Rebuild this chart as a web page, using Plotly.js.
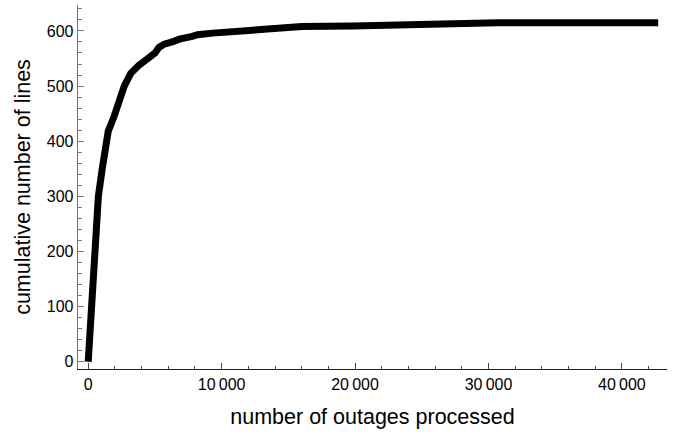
<!DOCTYPE html>
<html>
<head>
<meta charset="utf-8">
<script src="https://cdn.plot.ly/plotly-3.0.1.min.js"></script>
<style>html,body{margin:0;padding:0;background:#fff;}#chart{width:678px;height:433px;}</style>
</head>
<body>
<div id="chart"></div>
<script>
const outages = [0, 210, 435, 760, 1050, 1360, 1500, 1940, 2300, 2700, 3190, 3500, 3810, 4200, 4570, 5000, 5300, 5690, 6300, 6820, 7800, 8190, 9320, 10500, 11190, 13000, 14830, 16000, 19830, 24820, 30470, 30710, 42720];
const lines   = [0, 100, 200, 300, 350, 400, 418, 445, 470, 500, 523, 532, 538, 545, 551, 560, 570, 576, 580, 585, 590, 593, 596, 598, 602, 603, 607, 608, 609, 611, 612, 615, 615];
const xTickVals = [0, 10000, 20000, 30000, 40000];
const xTickText = ["0", "10\u2009000", "20\u2009000", "30\u2009000", "40\u2009000"];
const yTickVals = [0, 100, 200, 300, 400, 500, 600];

const fam = "Liberation Sans, Arial, sans-serif";

Plotly.newPlot("chart", [{
  x: outages, y: lines, type: "scatter", mode: "lines",
  line: {color: "#000", width: 7, shape: "linear"},
  hoverinfo: "skip"
}], {
  width: 678, height: 433,
  margin: {l: 78, r: 11, t: 5, b: 64},
  paper_bgcolor: "#fff", plot_bgcolor: "#fff",
  showlegend: false,
  font: {family: fam, color: "#000"},
  xaxis: {
    range: [-766, 43380], showgrid: false, zeroline: false,
    showline: true, linecolor: "#222", linewidth: 1.3,
    ticks: "inside", ticklen: 6, tickcolor: "#444", tickwidth: 1,
    tickvals: xTickVals, ticktext: xTickText,
    tickfont: {family: fam, size: 16, color: "#000"},
    minor: {dtick: 2000, ticks: "inside", ticklen: 3.5, tickcolor: "#444", tickwidth: 1},
    title: {text: "number of outages processed", font: {family: fam, size: 21.5, color: "#000"}, standoff: 17},
    automargin: false
  },
  yaxis: {
    range: [-13, 647], showgrid: false, zeroline: false,
    showline: true, linecolor: "#777", linewidth: 1.3,
    ticks: "inside", ticklen: 6, tickcolor: "#777", tickwidth: 1,
    tickvals: yTickVals,
    tickfont: {family: fam, size: 16, color: "#000"},
    minor: {dtick: 20, ticks: "inside", ticklen: 3.5, tickcolor: "#777", tickwidth: 1},
    title: {text: "cumulative number of lines", font: {family: fam, size: 21.5, color: "#000"}, standoff: 10},
    automargin: false
  }
}, {displayModeBar: false, staticPlot: true});
</script>
</body>
</html>
